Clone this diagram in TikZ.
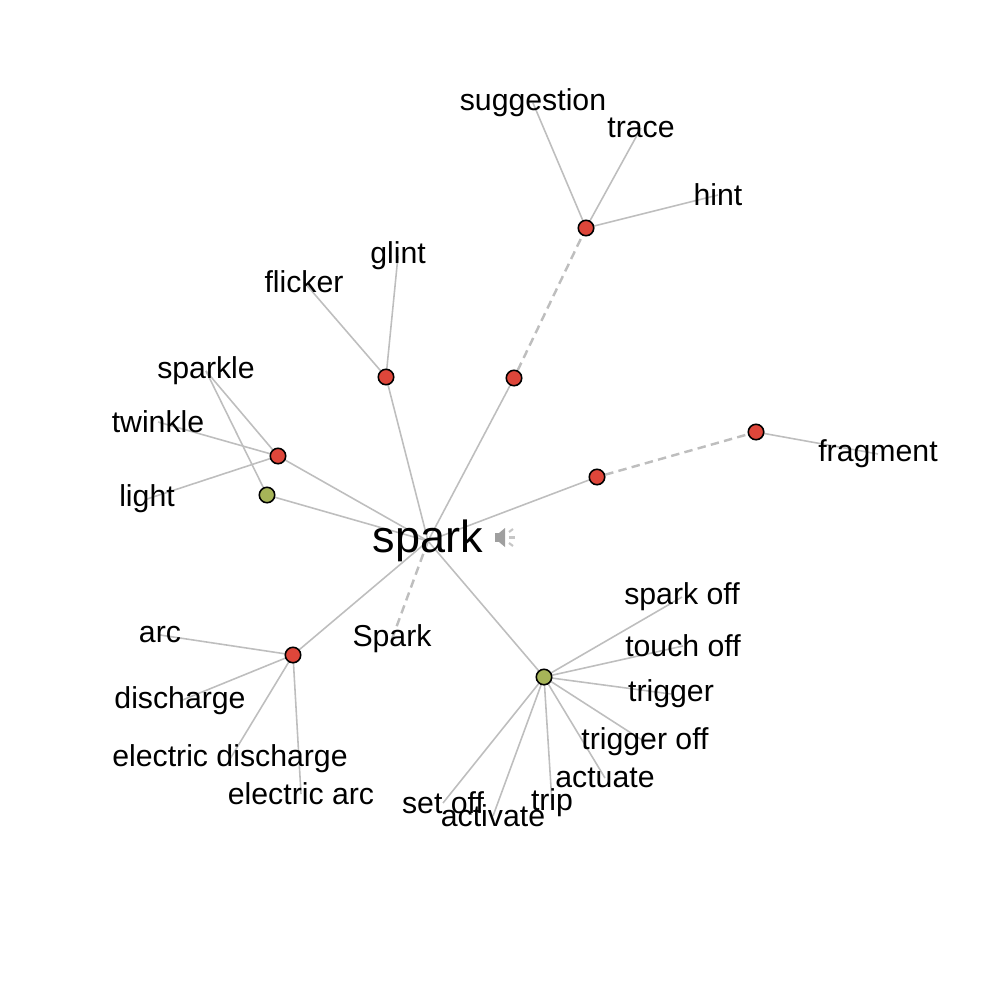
\documentclass[tikz,border=0pt]{standalone}
\usepackage{fontspec}
\setmainfont{Liberation Sans}
\usetikzlibrary{backgrounds}
\definecolor{sensered}{RGB}{222,70,58}
\definecolor{sensegreen}{RGB}{166,180,88}
\definecolor{linkgray}{RGB}{190,190,190}

\begin{document}
\begin{tikzpicture}[x=0.01cm, y=-0.01cm,
  word/.style={font=\fontsize{8.6}{10}\selectfont, inner sep=0pt},
  headword/.style={font=\fontsize{12.8}{15}\selectfont, inner sep=0pt},
  sense/.style={circle, draw=black, line width=0.45pt, fill=sensered,
    minimum size=4.4pt, inner sep=0pt},
  sensegr/.style={sense, fill=sensegreen},
  link/.style={draw=linkgray, line width=0.45pt},
  weak/.style={draw=linkgray, line width=0.7pt, dash pattern=on 2.4pt off 1.5pt}]
  \useasboundingbox (0,0) rectangle (1000,1000);

  % Head word
  \node[headword] (spark) at (428,541) {spark};
  % speaker icon
  \fill[gray!75] (495,533) rectangle (499,542);
  \fill[gray!75] (499,533) -- (505,528) -- (505,547) -- (499,542) -- cycle;
  \draw[gray!45, line width=0.6pt] (509,532) -- (513,529);
  \draw[gray!45, line width=0.6pt] (509,537.5) -- (515,537.5);
  \draw[gray!45, line width=0.6pt] (509,543) -- (513,546);

  % Sense nodes
  \node[sense] (hintS) at (586,228) {};
  \node[sense] (traceS) at (514,378) {};
  \node[sense] (glintS) at (386,377) {};
  \node[sense] (twinkS) at (278,456) {};
  \node[sensegr] (lightS) at (267,495) {};
  \node[sense] (fragS) at (597,477) {};
  \node[sense] (bitS) at (756,432) {};
  \node[sense] (arcS) at (293,655) {};
  \node[sensegr] (trigS) at (544,677) {};

  % Words
  \node[word] (suggestion) at (533,103) {suggestion};
  \node[word] (trace) at (641,128) {trace};
  \node[word] (hint) at (718,195) {hint};
  \node[word] (glint) at (398,256) {glint};
  \node[word] (flicker) at (304,282) {flicker};
  \node[word] (sparkle) at (206,371) {sparkle};
  \node[word] (twinkle) at (158,422) {twinkle};
  \node[word] (light) at (147,499) {light};
  \node[word] (fragment) at (878,454) {fragment};
  \node[word] (Spark) at (392,639) {Spark};
  \node[word] (arc) at (160,635) {arc};
  \node[word] (discharge) at (180,701) {discharge};
  \node[word] (edischarge) at (230,759) {electric discharge};
  \node[word] (earc) at (301,794) {electric arc};
  \node[word] (sparkoff) at (682,597) {spark off};
  \node[word] (touchoff) at (683,646) {touch off};
  \node[word] (trigger) at (671,694) {trigger};
  \node[word] (triggeroff) at (645,742) {trigger off};
  \node[word] (actuate) at (605,778) {actuate};
  \node[word] (trip) at (552,803) {trip};
  \node[word] (activate) at (493,816) {activate};
  \node[word] (setoff) at (443,803) {set off};

  % Links
  \begin{scope}[on background layer]
    \foreach \s in {traceS, glintS, twinkS, lightS, fragS, arcS, trigS}
      \draw[link] (spark.center) -- (\s.center);
    \draw[weak] (spark.center) -- (Spark.center);
    \draw[weak] (traceS) -- (hintS);
    \draw[weak] (fragS) -- (bitS);
    \foreach \w in {suggestion, trace, hint}
      \draw[link] (hintS.center) -- (\w.center);
    \foreach \w in {glint, flicker}
      \draw[link] (glintS.center) -- (\w.center);
    \foreach \w in {sparkle, twinkle, light}
      \draw[link] (twinkS.center) -- (\w.center);
    \draw[link] (lightS.center) -- (sparkle.center);
    \draw[link] (bitS.center) -- (fragment.center);
    \foreach \w in {arc, discharge, edischarge, earc}
      \draw[link] (arcS.center) -- (\w.center);
    \foreach \w in {sparkoff, touchoff, trigger, triggeroff, actuate, trip, activate, setoff}
      \draw[link] (trigS.center) -- (\w.center);
  \end{scope}
\end{tikzpicture}
\end{document}
